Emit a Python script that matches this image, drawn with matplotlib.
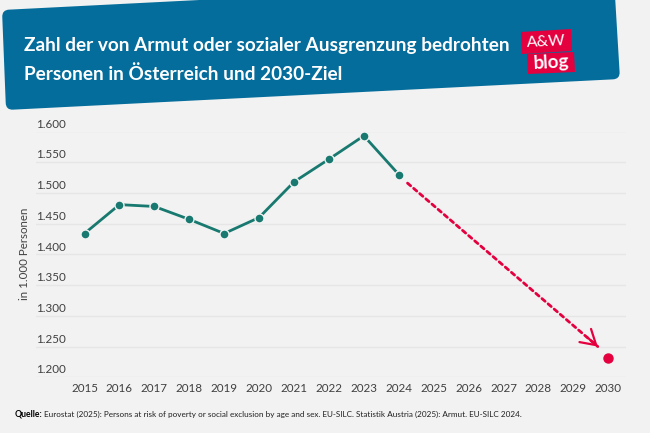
import matplotlib
matplotlib.use("Agg")
import matplotlib.pyplot as plt
from matplotlib.patches import Polygon, PathPatch
from matplotlib.path import Path

# Data
years = [2015, 2016, 2017, 2018, 2019, 2020, 2021, 2022, 2023, 2024]
persons = [1434, 1481, 1478, 1457, 1434, 1460, 1518, 1555, 1593, 1530]
target_year = 2030
target_value = 1231
arrow_start = (2024.25, 1516)
arrow_end = (2029.7, 1250)
yticks = [1200, 1250, 1300, 1350, 1400, 1450, 1500, 1550, 1600]
ytick_labels = ["1.200", "1.250", "1.300", "1.350", "1.400", "1.450", "1.500", "1.550", "1.600"]
xticks = list(range(2015, 2031))

title_lines = ["Zahl der von Armut oder sozialer Ausgrenzung bedrohten",
               "Personen in Österreich und 2030-Ziel"]
source = "Eurostat (2025): Persons at risk of poverty or social exclusion by age and sex. EU-SILC. Statistik Austria (2025): Armut. EU-SILC 2024."

BG = "#f2f2f2"
BLUE = "#046d9b"
TEAL = "#17796f"
RED = "#e4003f"
TEXT = "#404040"
W, H = 650, 433

plt.rcParams["font.family"] = ["Lato", "DejaVu Sans"]

fig = plt.figure(figsize=(6.5, 4.33), dpi=100, facecolor=BG)

# overlay in pixel coordinates for banner, logo and source
bg = fig.add_axes([0, 0, 1, 1])
bg.set_xlim(0, W)
bg.set_ylim(H, 0)
bg.axis("off")


def rounded_poly(pts, r=7):
    # closed polygon with rounded corners
    verts, codes = [], []
    n = len(pts)
    for i in range(n):
        p = pts[i]
        a = pts[i - 1]
        b = pts[(i + 1) % n]
        da = ((a[0] - p[0]) ** 2 + (a[1] - p[1]) ** 2) ** 0.5
        db = ((b[0] - p[0]) ** 2 + (b[1] - p[1]) ** 2) ** 0.5
        s = (p[0] + (a[0] - p[0]) * r / da, p[1] + (a[1] - p[1]) * r / da)
        e = (p[0] + (b[0] - p[0]) * r / db, p[1] + (b[1] - p[1]) * r / db)
        verts += [s, p, e]
        codes += [Path.LINETO if i else Path.MOVETO, Path.CURVE3, Path.CURVE3]
    verts.append(verts[0])
    codes.append(Path.CLOSEPOLY)
    return Path(verts, codes)


bg.add_patch(PathPatch(rounded_poly([(2, 10), (614, -21), (620, 79), (6, 110)]),
                       facecolor=BLUE, edgecolor="none"))
bg.text(24, 45, title_lines[0], color="white", fontsize=13.65, fontweight="bold", va="center", ha="left")
bg.text(24, 74, title_lines[1], color="white", fontsize=13.65, fontweight="bold", va="center", ha="left")

# logo
bg.add_patch(Polygon([(521, 32), (571, 29), (572, 51), (522, 54)], facecolor=RED, edgecolor="none"))
bg.add_patch(Polygon([(527, 54), (574, 52), (575, 72), (528, 74)], facecolor=RED, edgecolor="none"))
bg.text(546.5, 41.5, "A&W", color="white", fontsize=11.5, va="center", ha="center", rotation=3)
bg.text(551, 62.5, "blog", color="white", fontsize=13.5, fontweight="bold", va="center", ha="center", rotation=3)

# source line
bg.text(15, 414.5, "Quelle:", color="black", fontsize=6.2, fontweight="bold", va="center", ha="left")
bg.text(44, 414.5, source, color="#202020", fontsize=5.88, va="center", ha="left")

# chart
left, right, top, bottom = 36, 626, 131.5, 377.3
ax = fig.add_axes([left / W, 1 - bottom / H, (right - left) / W, (bottom - top) / H])
ax.patch.set_alpha(0)
ax.set_xlim(2015 - (84.5 - left) / 34.92, 2030 + (right - 608.3) / 34.92)
ax.set_ylim(1200, 1600)
for s in ax.spines.values():
    s.set_visible(False)
ax.set_yticks(yticks)
ax.set_yticklabels([])
ax.set_xticks(xticks)
ax.tick_params(length=0)
ax.tick_params(axis="x", labelsize=8.4, labelcolor=TEXT, pad=4)
ax.grid(axis="y", color="#e6e6e6", linewidth=1)
ax.set_axisbelow(True)
for v, lab in zip(yticks, ytick_labels):
    ax.text(0, v + 3, lab, transform=ax.get_yaxis_transform(), ha="left", va="bottom",
            fontsize=8.4, color=TEXT)
bg.text(24.5, 254, "in 1.000 Personen", rotation=90, fontsize=8.3, color=TEXT, va="center", ha="center")

ax.plot(years, persons, color=TEAL, linewidth=2, marker="o", markersize=6.5,
        markerfacecolor=TEAL, markeredgecolor=BG, markeredgewidth=1, clip_on=False, zorder=3)
ax.plot([target_year], [target_value], marker="o", markersize=6.5, color=RED, clip_on=False, zorder=3)

# dashed arrow, head drawn solid
ax.annotate("", xy=arrow_end, xytext=arrow_start,
            arrowprops=dict(arrowstyle="-", color=RED, linewidth=2, linestyle=(0, (1.5, 1.4)),
                            shrinkA=0, shrinkB=0))
ax.annotate("", xy=arrow_end, xytext=(arrow_end[0] - 0.3, arrow_end[1] + 15),
            arrowprops=dict(arrowstyle="->,head_length=0.75,head_width=0.45", color=RED, linewidth=1.6,
                            mutation_scale=14, shrinkA=0, shrinkB=0))

fig.savefig("out.png", dpi=100, facecolor=BG)
